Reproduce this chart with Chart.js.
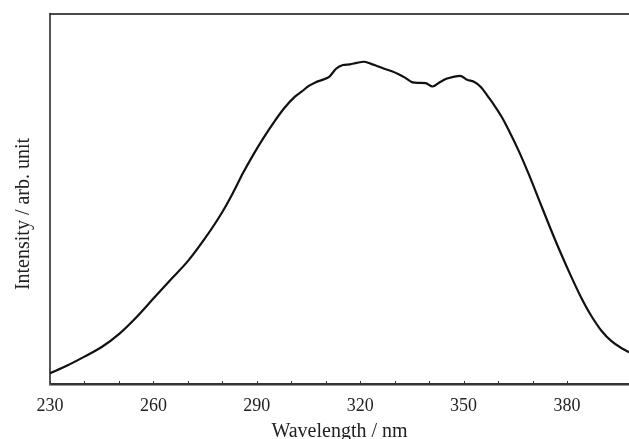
<!DOCTYPE html>
<html lang="en">
<head>
    <meta charset="UTF-8">
    <title>Intensity vs Wavelength</title>
    <script src="https://cdn.jsdelivr.net/npm/chart.js"></script>
    <style>
        html, body {
            margin: 0;
            padding: 0;
            background: #ffffff;
        }
        #spectrum {
            display: block;
        }
    </style>
</head>
<body>
    <canvas id="spectrum" width="629" height="439"></canvas>

    <script>
        // wavelength (nm) and intensity (arb. unit)
        const wavelength = [230, 235, 240, 245, 250, 255, 260, 265, 270, 275, 280, 283, 286, 289, 292, 295, 298, 301, 303, 305,
            307, 309, 311, 313, 315, 317, 319, 321, 323, 325, 327, 329, 331, 333, 335, 337, 339, 341, 343, 345,
            347, 349, 351, 353, 355, 357, 359, 361, 363, 366, 369, 372, 375, 378, 381, 384, 387, 390, 393, 396, 398];
        const intensity = [2.9, 5.0, 7.4, 10.0, 13.5, 18.0, 23.1, 28.2, 33.2, 39.4, 46.5, 51.5, 57.0, 62.0, 66.6, 70.8, 74.6, 77.6, 79.0, 80.5,
            81.5, 82.2, 83.0, 85.2, 86.2, 86.4, 86.8, 87.1, 86.6, 85.9, 85.2, 84.6, 83.8, 82.8, 81.6, 81.4, 81.3, 80.4, 81.5, 82.5,
            83.0, 83.3, 82.2, 81.7, 80.3, 77.8, 75.2, 72.3, 68.8, 63.0, 56.5, 49.5, 42.5, 35.8, 29.5, 23.6, 18.5, 14.4, 11.5, 9.6, 8.6];

        const xMin = 230;
        const xMax = 398;
        const labelEvery = 30;

        const points = wavelength.map((w, i) => ({ x: w, y: intensity[i] }));

        // top frame line + small inward ticks on the x axis
        const framePlugin = {
            id: 'frame',
            afterDraw(chart) {
                const ctx = chart.ctx;
                const area = chart.chartArea;
                const xs = chart.scales.x;
                ctx.save();
                ctx.strokeStyle = '#111';
                ctx.lineWidth = 1.5;
                ctx.beginPath();
                ctx.moveTo(area.left, area.top);
                ctx.lineTo(area.right, area.top);
                ctx.stroke();

                ctx.strokeStyle = '#333';
                ctx.lineWidth = 1;
                xs.ticks.forEach(t => {
                    if ((t.value - xMin) % 10 !== 0) return;
                    const px = Math.round(xs.getPixelForValue(t.value)) + 0.5;
                    ctx.beginPath();
                    ctx.moveTo(px, area.bottom);
                    ctx.lineTo(px, area.bottom - 3);
                    ctx.stroke();
                });
                ctx.restore();
            }
        };

        const ctx = document.getElementById('spectrum').getContext('2d');
        const chart = new Chart(ctx, {
            type: 'line',
            data: {
                datasets: [{
                    data: points,
                    borderColor: '#111',
                    borderWidth: 2.2,
                    pointRadius: 0,
                    cubicInterpolationMode: 'monotone',
                    fill: false
                }]
            },
            options: {
                responsive: false,
                animation: false,
                layout: { padding: { top: 14, right: 0, left: 0, bottom: 0 } },
                plugins: {
                    legend: { display: false },
                    tooltip: { enabled: false }
                },
                scales: {
                    x: {
                        type: 'linear',
                        min: xMin,
                        max: xMax,
                        grid: { display: false, drawTicks: false },
                        border: { display: true, color: '#333', width: 2.5 },
                        ticks: {
                            stepSize: 10,
                            autoSkip: false,
                            maxRotation: 0,
                            padding: 11,
                            color: '#222',
                            font: { family: '"Liberation Serif", serif', size: 18 },
                            callback: v => ((v - xMin) % labelEvery === 0 ? String(v) : '')
                        },
                        title: {
                            display: true,
                            text: 'Wavelength / nm',
                            color: '#222',
                            padding: 0,
                            font: { family: '"Liberation Serif", serif', size: 20, lineHeight: 0.74 }
                        },
                        afterFit: s => {
                            s.height = 55;
                            s.paddingLeft = 0;
                            s.paddingRight = 0;
                        }
                    },
                    y: {
                        min: 0,
                        max: 100,
                        grid: { display: false, drawTicks: false },
                        border: { display: true, color: '#555', width: 2 },
                        ticks: { display: false },
                        title: {
                            display: true,
                            // trailing spaces push the rotated label a bit lower, as in the original
                            text: 'Intensity / arb. unit      ',
                            color: '#222',
                            padding: { top: 12 },
                            font: { family: '"Liberation Serif", serif', size: 20, lineHeight: 1.2 }
                        },
                        afterFit: s => { s.width = 50; }
                    }
                }
            },
            plugins: [framePlugin]
        });
    </script>
</body>
</html>
